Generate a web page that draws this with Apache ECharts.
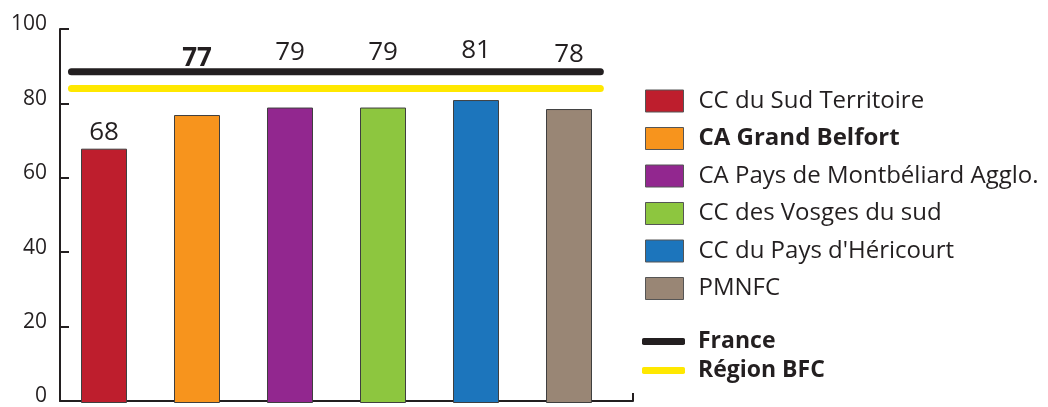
<!DOCTYPE html>
<html><head><meta charset="utf-8">
<script src="https://cdn.jsdelivr.net/npm/echarts@6/dist/echarts.min.js"></script>
<style>html,body{margin:0;padding:0;background:#fff}#c{width:1048px;height:407px}</style>
</head><body><div id="c"></div>
<script>
const CATEGORIES = ['CC du Sud Territoire','CA Grand Belfort','CA Pays de Montbéliard Agglo.','CC des Vosges du sud',"CC du Pays d'Héricourt",'PMNFC'];
const VALUES = [68, 77, 79, 79, 81, 78.6];
const VALUE_LABELS = ['68','77','79','79','81','78'];
const COLORS = ['#BE1E2D','#F7941D','#92278F','#8DC63F','#1C75BC','#998675'];
const FRANCE = 88.5;
const REGION = 84;
const Y_TICKS = [0,20,40,60,80,100];

// layout-only constants
const LABEL_DIST = [3, 43, 42, 42, 36, 41];
const LINE_X0 = 0.020, LINE_X1 = 0.943;
const FONT = 'Open Sans';
const INK = '#231F20';

const chart = echarts.init(document.getElementById('c'), null, {renderer:'canvas'});
const series = CATEGORIES.map((name, i) => ({
  name, type:'bar', xAxisIndex:0, yAxisIndex:0,
  barWidth:46, barGap:'-100%',
  itemStyle:{color:COLORS[i], borderColor:'#3f3f3f', borderWidth:1},
  label:{show:true, position:'top', distance:LABEL_DIST[i], fontFamily:FONT, fontSize:26,
    fontWeight: i===1 ? 'bold' : 'normal', color:INK, formatter:()=>VALUE_LABELS[i]},
  data: VALUES.map((v,j)=> j===i ? v : '-')
}));
series.push({name:'France', type:'line', xAxisIndex:1, yAxisIndex:1, symbol:'none', silent:true,
  lineStyle:{color:INK, width:7, cap:'round'}, itemStyle:{color:INK},
  data:[[LINE_X0, FRANCE],[LINE_X1, FRANCE]]});
series.push({name:'Région BFC', type:'line', xAxisIndex:1, yAxisIndex:1, symbol:'none', silent:true,
  lineStyle:{color:'#FFE800', width:7, cap:'round'}, itemStyle:{color:'#FFE800'},
  data:[[LINE_X0, REGION],[LINE_X1, REGION]]});

chart.setOption({
  animation:false,
  textStyle:{fontFamily:FONT},
  grid:[
    {left:57.5, top:29, width:558, height:374},
    {left:60, top:29, width:573, height:374}
  ],
  xAxis:[
    {type:'category', gridIndex:0, data:CATEGORIES, show:false, boundaryGap:true},
    {type:'value', gridIndex:1, min:0, max:1, interval:1,
     axisLine:{show:true, lineStyle:{color:INK, width:2}},
     axisTick:{show:true, inside:true, length:8, lineStyle:{color:INK, width:2}},
     axisLabel:{show:false}, splitLine:{show:false}}
  ],
  yAxis:[
    {type:'value', gridIndex:0, min:0, max:100, show:false},
    {type:'value', gridIndex:1, min:Y_TICKS[0], max:Y_TICKS[Y_TICKS.length-1], interval:Y_TICKS[1]-Y_TICKS[0],
     axisLine:{show:true, lineStyle:{color:INK, width:2}},
     axisTick:{show:true, inside:true, length:9, lineStyle:{color:INK, width:2}},
     axisLabel:{fontFamily:FONT, fontSize:21, color:INK, margin:13, verticalAlign:'bottom', lineHeight:9},
     splitLine:{show:false}}
  ],
  legend:[
    {orient:'vertical', left:645, top:89, padding:0, itemWidth:38, itemHeight:22, itemGap:13.5, selectedMode:false,
     textStyle:{fontFamily:FONT, fontSize:24, color:INK, padding:[0,0,0,10]},
     data: CATEGORIES.map((n,i)=>({name:n, icon:'rect', itemStyle:{borderColor:'#555', borderWidth:1},
       textStyle: i===1 ? {fontWeight:'bold'} : {}}))},
    {orient:'vertical', left:642, top:330, padding:0, itemWidth:43, itemHeight:7, itemGap:6, selectedMode:false,
     textStyle:{fontFamily:FONT, fontSize:23, fontWeight:'bold', color:INK, padding:[0,0,0,8]},
     data:[{name:'France', icon:'roundRect'},{name:'Région BFC', icon:'roundRect'}]}
  ],
  series
});
</script></body></html>
